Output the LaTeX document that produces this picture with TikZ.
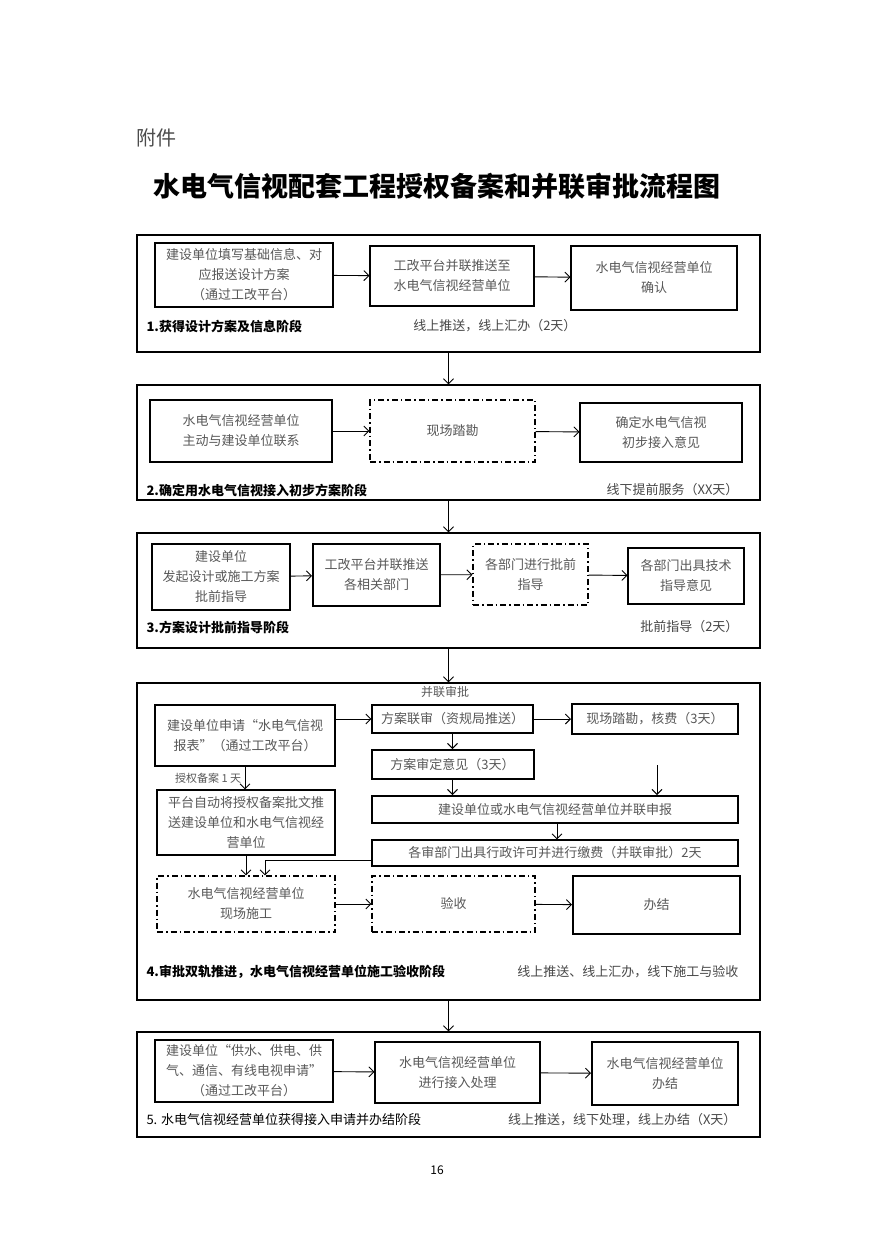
\documentclass[tikz,border=0pt]{standalone}
\usepackage{fontspec}
\setmainfont{Noto Sans CJK SC}
\usetikzlibrary{arrows.meta}
\definecolor{boxText}{RGB}{88,88,88}
\definecolor{noteText}{RGB}{70,70,70}

\begin{document}
\begin{tikzpicture}[
  x=1pt,
  y=-1pt,
  every node/.style={font=\fontsize{13}{20}\selectfont},
  stagebox/.style={
    draw,
    line width=1.4pt,
    minimum width=623pt,
    inner sep=0pt
  },
  flowbox/.style={
    draw,
    line width=1.1pt,
    align=center,
    fill=white,
    text=boxText,
    inner sep=2pt
  },
  heavybox/.style={flowbox, line width=2pt},
  checkbox/.style={flowbox, dash pattern=on 6pt off 3pt on 1.5pt off 3pt},
  stagelabel/.style={anchor=west, font=\fontsize{13}{15}\selectfont\bfseries},
  note/.style={anchor=east, text=noteText},
  arr/.style={line width=0.9pt, -{Straight Barb[length=5pt,width=10pt]}}
]
  \useasboundingbox (0,0) rectangle (882,1255);

  \node[anchor=west, font=\fontsize{20}{22}\selectfont, text=black!70] (annex) at (133,138) {附件};
  \node[font=\fontsize{27}{30}\selectfont\bfseries] (title) at (437,186) {水电气信视配套工程授权备案和并联审批流程图};

  % stage frames
  \node[stagebox, minimum height=117pt] (s1) at (448.5,293.5) {};
  \node[stagebox, minimum height=115pt] (s2) at (448.5,442.5) {};
  \node[stagebox, minimum height=115pt] (s3) at (448.5,590.5) {};
  \node[stagebox, minimum height=317pt] (s4) at (448.5,841.5) {};
  \node[stagebox, minimum height=105pt] (s5) at (448.5,1084.5) {};

  \draw[arr] (s1) -- (s2);
  \draw[arr] (s2) -- (s3);
  \draw[arr] (s3) -- (s4);
  \draw[arr] (s4) -- (s5);

  % stage 1
  \node[heavybox, minimum width=178pt, minimum height=64pt] (a1) at (244,275) {建设单位填写基础信息、对\\应报送设计方案\\（通过工改平台）};
  \node[flowbox, minimum width=164pt, minimum height=60pt] (b1) at (452,276) {工改平台并联推送至\\水电气信视经营单位};
  \node[flowbox, minimum width=166pt, minimum height=64pt] (c1) at (654,278) {水电气信视经营单位\\确认};
  \node[stagelabel] (l1) at (143,326) {1.获得设计方案及信息阶段};
  \node[note] (n1) at (580,326) {线上推送，线上汇办（2天）};
  \draw[arr] (a1) -- (b1);
  \draw[arr] (b1) -- (c1);

  % stage 2
  \node[heavybox, minimum width=182pt, minimum height=62pt] (a2) at (241,431) {水电气信视经营单位\\主动与建设单位联系};
  \node[checkbox, minimum width=165pt, minimum height=62pt] (b2) at (452.5,431) {现场踏勘};
  \node[flowbox, minimum width=162pt, minimum height=59pt] (c2) at (661,432.5) {确定水电气信视\\初步接入意见};
  \node[stagelabel] (l2) at (143,490) {2.确定用水电气信视接入初步方案阶段};
  \node[note] (n2) at (742,490) {线下提前服务（XX天）};
  \draw[arr] (a2) -- (b2);
  \draw[arr] (b2) -- (c2);

  % stage 3
  \node[heavybox, minimum width=138pt, minimum height=66pt] (a3) at (221,577) {建设单位\\发起设计或施工方案\\批前指导};
  \node[heavybox, minimum width=127pt, minimum height=62pt] (b3) at (376.5,575) {工改平台并联推送\\各相关部门};
  \node[checkbox, minimum width=115pt, minimum height=61pt] (c3) at (530.5,574.5) {各部门进行批前\\指导};
  \node[flowbox, minimum width=116pt, minimum height=56pt] (d3) at (686,576) {各部门出具技术\\指导意见};
  \node[stagelabel] (l3) at (143,627) {3.方案设计批前指导阶段};
  \node[note] (n3) at (742,627) {批前指导（2天）};
  \draw[arr] (a3) -- (b3);
  \draw[arr] (b3) -- (c3);
  \draw[arr] (c3) -- (d3);

  % stage 4
  \node[text=boxText, font=\fontsize{12}{14}\selectfont] (joint) at (445,692) {并联审批};
  \node[heavybox, minimum width=180pt, minimum height=61pt] (p1) at (245,735.5) {建设单位申请“水电气信视\\报表”（通过工改平台）};
  \node[flowbox, minimum width=161pt, minimum height=28pt] (q1) at (452.5,719) {方案联审（资规局推送）};
  \node[heavybox, minimum width=166pt, minimum height=30pt] (r1) at (655,719) {现场踏勘，核费（3天）};
  \node[heavybox, minimum width=162pt, minimum height=29pt] (q2) at (452.5,764.5) {方案审定意见（3天）};
  \node[flowbox, minimum width=178pt, minimum height=65pt] (p2) at (246,822.5) {平台自动将授权备案批文推\\送建设单位和水电气信视经\\营单位};
  \node[heavybox, minimum width=366pt, minimum height=27pt] (q3) at (555,809.5) {建设单位或水电气信视经营单位并联申报};
  \node[flowbox, minimum width=366pt, minimum height=26pt] (q4) at (555,853) {各审部门出具行政许可并进行缴费（并联审批）2天};
  \node[checkbox, minimum width=178pt, minimum height=56pt] (p3) at (246,904) {水电气信视经营单位\\现场施工};
  \node[checkbox, minimum width=163pt, minimum height=56pt] (q5) at (453.5,904) {验收};
  \node[heavybox, minimum width=167pt, minimum height=58pt] (r5) at (656.5,905) {办结};
  \coordinate (fee) at (657,765);
  \node[stagelabel] (l4) at (143,972) {4.审批双轨推进，水电气信视经营单位施工验收阶段};
  \node[note] (n4) at (742,972) {线上推送、线上汇办，线下施工与验收};

  \draw[arr] (p1.east |- q1.west) -- (q1.west);
  \draw[arr] (q1) -- (r1);
  \draw[arr] (q1) -- (q2);
  \draw[arr] (q2.south) -- (q2.south |- q3.north);
  \draw[arr] (fee) -- (fee |- q3.north);
  \draw[arr] ([xshift=2pt]q3.south) -- ([xshift=2pt]q4.north);
  \draw[arr] (p1.south) -- node[left, text=boxText, font=\fontsize{11}{13}\selectfont] {授权备案 1 天} (p1.south |- p2.north);
  \draw[arr] (p2) -- (p3);
  \draw[arr] ([yshift=-7pt]q4.west) -| ([xshift=19pt]p3.north);
  \draw[arr] (p3) -- (q5);
  \draw[arr] (q5) -- (r5);

  % stage 5
  \node[flowbox, minimum width=178pt, minimum height=62pt] (a5) at (244,1071) {建设单位“供水、供电、供\\气、通信、有线电视申请”\\（通过工改平台）};
  \node[flowbox, minimum width=165pt, minimum height=61pt] (b5) at (457.5,1072.5) {水电气信视经营单位\\进行接入处理};
  \node[heavybox, minimum width=146pt, minimum height=63pt] (c5) at (665,1073.5) {水电气信视经营单位\\办结};
  \node[anchor=west, font=\fontsize{13}{15}\selectfont] (l5) at (143,1120) {5. 水电气信视经营单位获得接入申请并办结阶段};
  \node[note] (n5) at (740,1120) {线上推送，线下处理，线上办结（X天）};
  \draw[arr] (a5) -- (b5);
  \draw[arr] (b5) -- (c5);

  \node[font=\fontsize{12}{14}\selectfont] (page) at (437,1170) {16};
\end{tikzpicture}
\end{document}
